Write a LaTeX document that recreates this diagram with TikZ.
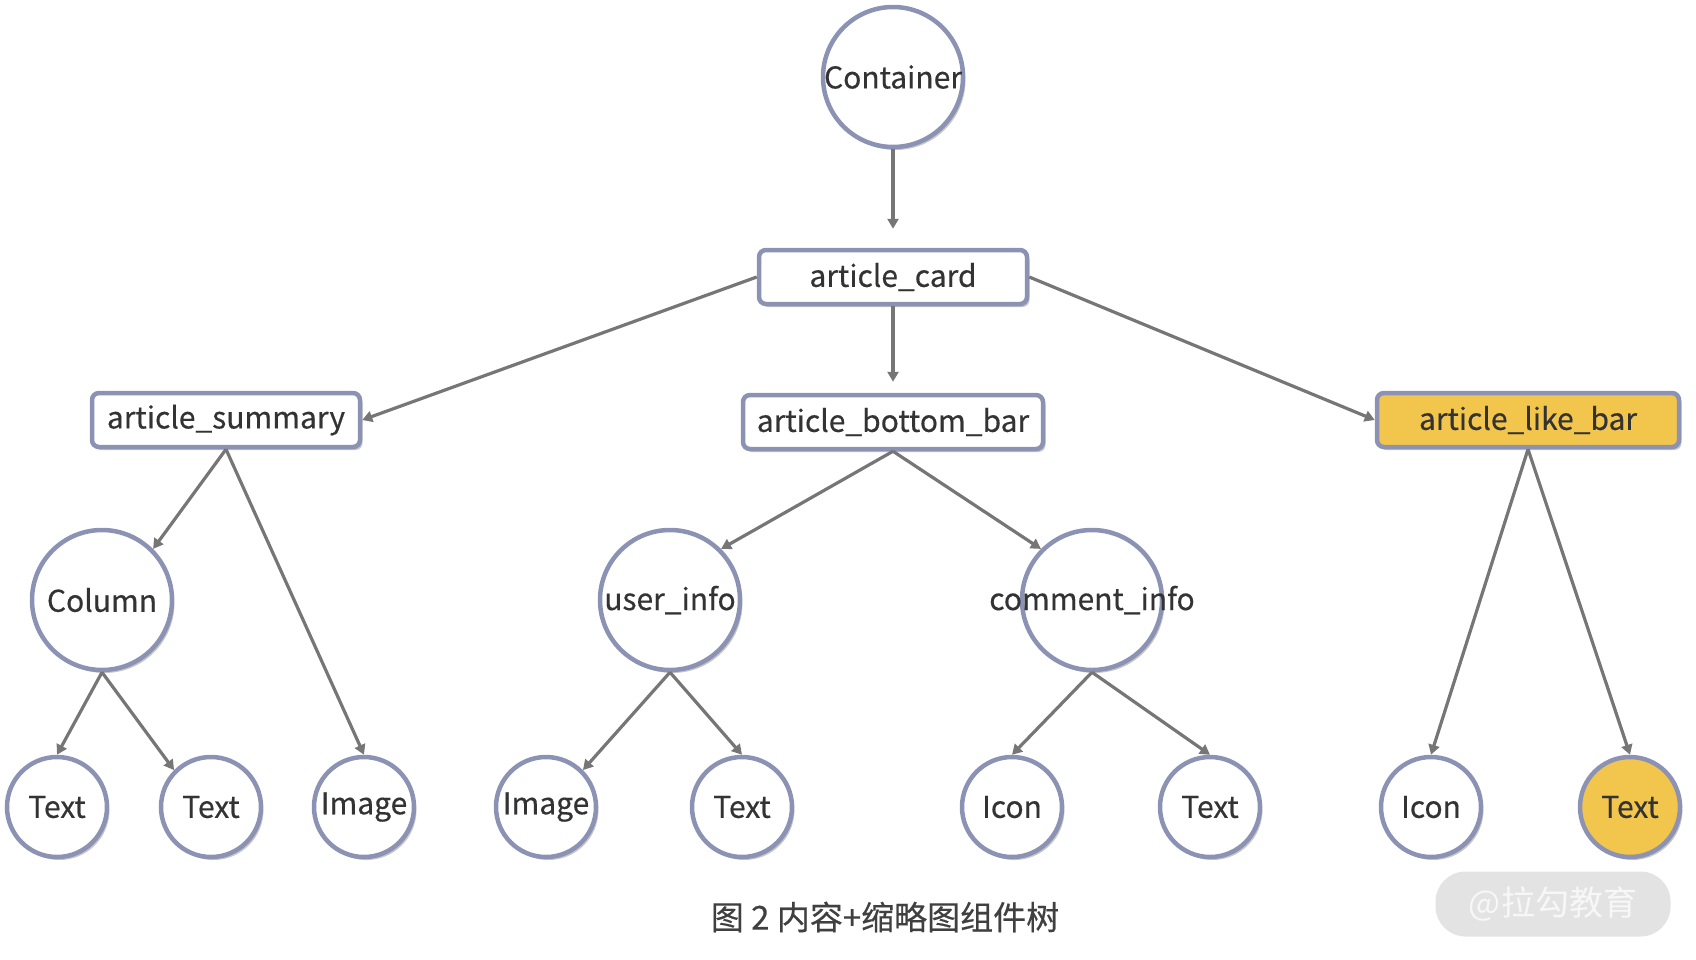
\documentclass[tikz,border=0pt]{standalone}
\usepackage{fontspec}
\setmainfont{Noto Sans CJK SC}[FakeBold=0.4]
\newfontfamily\plainfont{Noto Sans CJK SC}
\usetikzlibrary{arrows.meta,shadows}

\definecolor{rim}{HTML}{8C92B4}
\definecolor{wire}{HTML}{767676}
\definecolor{ink}{HTML}{333333}
\definecolor{amber}{HTML}{F2C54C}

\newcommand{\nw}[1]{\makebox[0pt]{#1}}

\tikzset{
  shade/.style={drop shadow={shadow xshift=2.5pt, shadow yshift=-3pt, opacity=0.22, fill=black}},
  box/.style={draw=rim, line width=4.5pt, rounded corners=7pt, fill=white,
    minimum height=54pt, inner sep=0pt, text=ink, font=\fontsize{30}{36}\selectfont, shade},
  bignode/.style={draw=rim, line width=4.5pt, circle, fill=white, minimum size=140pt,
    inner sep=0pt, text=ink, font=\fontsize{30}{36}\selectfont, shade},
  leaf/.style={draw=rim, line width=4.5pt, circle, fill=white, minimum size=100pt,
    inner sep=0pt, text=ink, font=\fontsize{30}{36}\selectfont, shade},
  hl/.style={fill=amber},
  edge/.style={draw=wire, line width=3.2pt, -{Triangle[width=11pt, length=10pt]}},
}

\begin{document}
\begin{tikzpicture}[x=1pt, y=-1pt]
    \useasboundingbox (0,0) rectangle (1696,959);

    % root and second level
    \node[bignode] (container) at (893,77) {\nw{Container}};
    \node[box, minimum width=268pt] (card) at (893,277) {article\_card};

    % third level
    \node[box, minimum width=268pt] (summary) at (226,420) {article\_summary};
    \node[box, minimum width=300pt] (bottombar) at (893,422) {article\_bottom\_bar};
    \node[box, hl, minimum width=302pt] (likebar) at (1528,420) {article\_like\_bar};

    % inner nodes
    \node[bignode] (column) at (102,600) {\nw{Column}};
    \node[bignode] (userinfo) at (670,600) {\nw{user\_info}};
    \node[bignode] (commentinfo) at (1092,600) {\nw{comment\_info}};

    % leaves
    \node[leaf] (textA) at (57,807) {\nw{Text}};
    \node[leaf] (textB) at (211,807) {\nw{Text}};
    \node[leaf] (imageA) at (364,807) {\nw{Image}};
    \node[leaf] (imageB) at (546,807) {\nw{Image}};
    \node[leaf] (textC) at (742,807) {\nw{Text}};
    \node[leaf] (iconA) at (1012,807) {\nw{Icon}};
    \node[leaf] (textD) at (1210,807) {\nw{Text}};
    \node[leaf] (iconB) at (1431,807) {\nw{Icon}};
    \node[leaf, hl] (textE) at (1630,807) {\nw{Text}};

    % connectors
    \draw[edge, shorten >=19pt] (container.south) -- (card.north);
    \draw[edge, shorten >=11pt] (card.south) -- (bottombar.north);
    \draw[edge] (card.west) -- (summary.east);
    \draw[edge] (card.east) -- (likebar.west);

    \draw[edge] (summary.south) -- (column.45);
    \draw[edge] (summary.south) -- (imageA.north);
    \draw[edge] (column.south) -- (textA.north);
    \draw[edge] (column.south) -- (textB.135);

    \draw[edge] (bottombar.south) -- (userinfo.45);
    \draw[edge] (bottombar.south) -- (commentinfo.135);
    \draw[edge] (userinfo.south) -- (imageB.45);
    \draw[edge] (userinfo.south) -- (textC.north);
    \draw[edge] (commentinfo.south) -- (iconA.north);
    \draw[edge] (commentinfo.south) -- (textD.north);

    \draw[edge] (likebar.south) -- (iconB.north);
    \draw[edge] (likebar.south) -- (textE.north);

    % caption and watermark
    \node[text=black!75, font=\fontsize{33}{38}\selectfont] (caption) at (885,917) {图 2 内容+缩略图组件树};
    \node[fill=black!11, rounded corners=30pt, minimum width=235pt, minimum height=65pt,
      text=black!3, font=\plainfont\fontsize{34}{40}\selectfont] (mark) at (1553,904) {@拉勾教育};
\end{tikzpicture}
\end{document}
